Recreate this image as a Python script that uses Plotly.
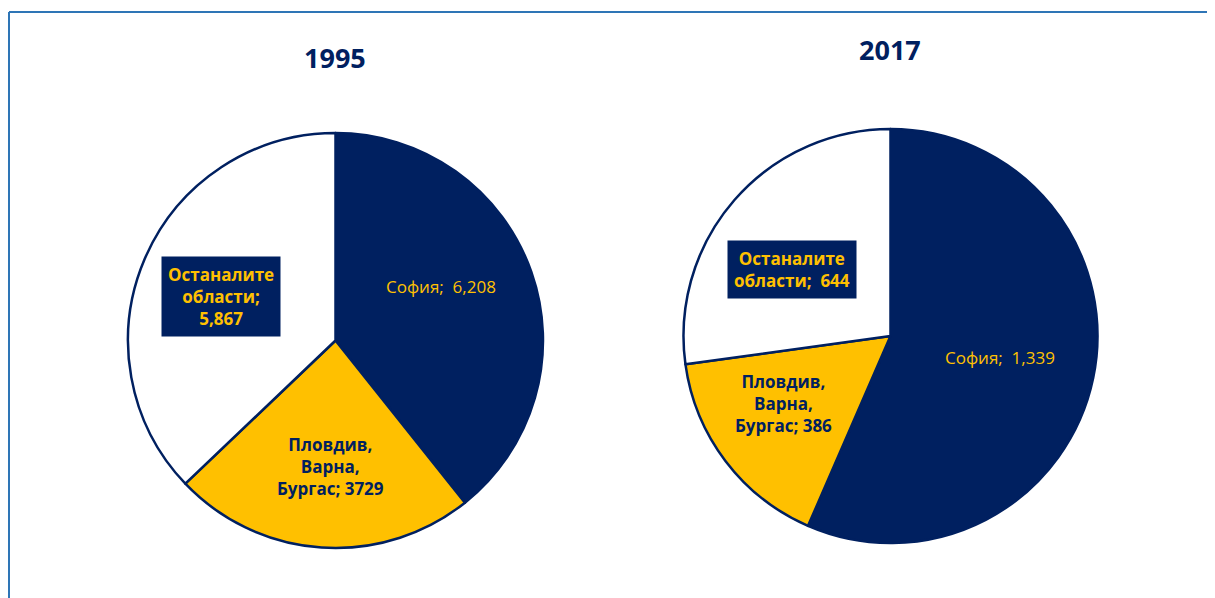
import plotly.graph_objects as go

# Data
years = ["1995", "2017"]
regions = ["София", "Пловдив, Варна, Бургас", "Останалите области"]
values_1995 = [6208, 3729, 5867]
values_2017 = [1339, 386, 644]
labels_1995 = ["София;  6,208", "Пловдив,<br>Варна,<br>Бургас; 3729", "Останалите<br>области;<br>5,867"]
labels_2017 = ["София;  1,339", "Пловдив,<br>Варна,<br>Бургас; 386", "Останалите<br>области;  644"]

NAVY = "#002060"
GOLD = "#FFC000"
OFF = 8  # page body margin
W, H = 1215 - OFF, 598 - OFF
colors = [NAVY, GOLD, "#FFFFFF"]


def px(x):
    return (x - OFF) / W


def py(y):
    return 1 - (y - OFF) / H


fig = go.Figure()

domains = [
    dict(x=[px(128), px(543)], y=[py(548), py(133)]),
    dict(x=[px(683), px(1098)], y=[py(543), py(129)]),
]
for vals, dom in zip([values_1995, values_2017], domains):
    fig.add_trace(go.Pie(
        labels=regions, values=vals, domain=dom,
        sort=False, direction="clockwise", rotation=0,
        marker=dict(colors=colors, line=dict(color=NAVY, width=2.5)),
        textinfo="none", hoverinfo="label+value", showlegend=False,
    ))

font_face = "Open Sans"


def note(x, y, text, **kw):
    fig.add_annotation(x=px(x), y=py(y), xref="paper", yref="paper", text=text,
                       showarrow=False, xanchor="center", yanchor="middle", **kw)


# titles
for yr, (x, y) in zip(years, [(335, 57), (890, 50)]):
    note(x, y, "<b>" + yr + "</b>", font=dict(family=font_face, size=27, color=NAVY))

# slice labels
label_spots = [
    (labels_1995, [(441, 286), (330, 466), (221, 297)]),
    (labels_2017, [(1000, 357), (783, 403), (792, 269)]),
]
for labs, spots in label_spots:
    for i, (txt, (x, y)) in enumerate(zip(labs, spots)):
        if i == 0:
            note(x, y, txt, font=dict(family=font_face, size=17, color=GOLD))
        elif i == 1:
            note(x, y, "<b>" + txt + "</b>", font=dict(family=font_face, size=17, color=NAVY))
        else:
            note(x, y, "<b>" + txt + "</b>", font=dict(family=font_face, size=17, color=GOLD),
                 bgcolor=NAVY, borderpad=6)

# frame lines (left and top)
frame = "#2E75B6"
fig.add_shape(type="line", xref="paper", yref="paper", x0=px(9), x1=px(9), y0=0, y1=py(12),
              line=dict(color=frame, width=2))
fig.add_shape(type="line", xref="paper", yref="paper", x0=px(9), x1=1, y0=py(12), y1=py(12),
              line=dict(color=frame, width=2))

fig.update_layout(
    width=W, height=H,
    margin=dict(l=0, r=0, t=0, b=0),
    paper_bgcolor="white", plot_bgcolor="white",
)

fig.write_html("out.html")
